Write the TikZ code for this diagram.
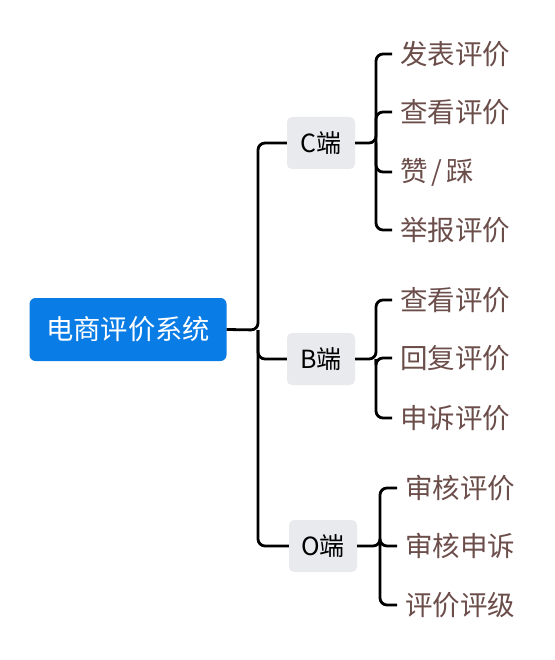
\documentclass[tikz,border=0pt]{standalone}
\usepackage{fontspec}
\setmainfont{Noto Sans CJK SC}
\definecolor{bleu}{HTML}{0A7CE6}
\definecolor{gris}{HTML}{E8EAED}
\definecolor{brun}{HTML}{6B4D4A}

\tikzstyle{racine}=[fill=bleu, rounded corners=6pt, minimum width=197pt, minimum height=63pt, text=white, font=\fontsize{27.3}{30}\selectfont]
\tikzstyle{branche}=[fill=gris, rounded corners=5pt, minimum width=68pt, minimum height=52pt, inner xsep=12pt, font=\fontsize{25}{30}\selectfont]
\tikzstyle{feuille}=[anchor=west, inner xsep=8pt, text=brun, font=\fontsize{27.5}{30}\selectfont]
\tikzstyle{lien}=[line width=2.8pt, rounded corners=7pt]

\begin{document}
\begin{tikzpicture}[x=1pt, y=-1pt]
    \useasboundingbox (0,0) rectangle (554,660);

    \node[racine] (systeme) at (128,329.5) {电商评价系统};
    \coordinate (tronc) at (258,330);

    \node[branche] (C) at (321,143) {C端};
    \node[branche] (B) at (321,359) {B端};
    \node[branche] (O) at (323,546) {O端};

    % C端
    \coordinate (jC) at (376,143);
    \node[feuille] (c1) at (392,54) {发表评价};
    \node[feuille] (c2) at (392,112) {查看评价};
    \node[feuille] (c3) at (392,172) {赞\hspace{4pt}/\hspace{4pt}踩};
    \node[feuille] (c4) at (392,230) {举报评价};

    % B端
    \coordinate (jB) at (376,359);
    \node[feuille] (b1) at (392,300) {查看评价};
    \node[feuille] (b2) at (392,358) {回复评价};
    \node[feuille] (b3) at (392,418) {申诉评价};

    % O端
    \coordinate (jO) at (380,546);
    \node[feuille] (o1) at (397,488) {审核评价};
    \node[feuille] (o2) at (397,546) {审核申诉};
    \node[feuille] (o3) at (397,605) {评价评级};

    \draw[lien] (systeme.east) -- (tronc) |- (C.west);
    \draw[lien] (tronc) |- (B.west);
    \draw[lien] (tronc) |- (O.west);

    \draw[lien] (C.east) -- (jC) |- (c1.west);
    \draw[lien] (jC) |- (c2.west);
    \draw[lien] (jC) |- (c3.west);
    \draw[lien] (jC) |- (c4.west);

    \draw[lien] (B.east) -- (jB) |- (b1.west);
    \draw[lien] (jB) |- (b2.west);
    \draw[lien] (jB) |- (b3.west);

    \draw[lien] (O.east) -- (jO) |- (o1.west);
    \draw[lien] (jO) |- (o2.west);
    \draw[lien] (jO) |- (o3.west);

\end{tikzpicture}
\end{document}
